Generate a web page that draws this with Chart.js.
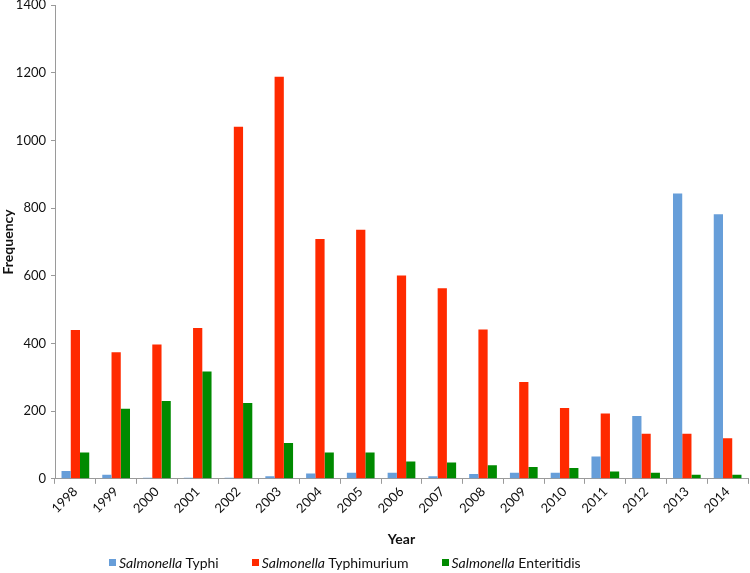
<!DOCTYPE html>
<html>
<head>
<meta charset="utf-8">
<script src="https://cdn.jsdelivr.net/npm/chart.js@4/dist/chart.umd.min.js"></script>
<style>
  html, body { margin: 0; padding: 0; background: #fff; }
  #wrap { position: relative; width: 750px; height: 573px; }
  #legend {
    position: absolute; left: 109px; top: 554px;
    display: flex; font: 14px Lato, sans-serif; color: #111;
  }
  .lg-item { display: flex; align-items: center; margin-right: 33px; white-space: nowrap; }
  .lg-box { width: 7px; height: 7px; margin-right: 3px; }
</style>
</head>
<body>
<div id="wrap">
  <canvas id="chart" width="750" height="573"></canvas>
  <div id="legend"></div>
</div>
<script>
// ─── data ───
const years = ['1998', '1999', '2000', '2001', '2002', '2003', '2004', '2005', '2006',
               '2007', '2008', '2009', '2010', '2011', '2012', '2013', '2014'];
const typhi       = [23, 12, 3, 3, 3, 8, 16, 18, 18, 8, 14, 18, 18, 66, 186, 843, 782];
const typhimurium = [440, 374, 397, 446, 1040, 1188, 709, 736, 601, 563, 441, 286, 209, 193, 133, 133, 120];
const enteritidis = [78, 207, 230, 317, 224, 106, 78, 78, 51, 48, 40, 35, 32, 22, 18, 12, 12];

const seriesNames = ['Typhi', 'Typhimurium', 'Enteritidis'];
const genus = 'Salmonella';
const colors = ['#679ED9', '#FF2A00', '#008A00'];

const FONT = 'Lato, sans-serif';
const axisColor = '#9a9a9a';

const datasets = [typhi, typhimurium, enteritidis].map((vals, i) => ({
  label: genus + ' ' + seriesNames[i],
  data: vals,
  backgroundColor: colors[i],
  borderWidth: 0,
  categoryPercentage: 0.68,
  barPercentage: 1.0,
}));

const chart = new Chart(document.getElementById('chart'), {
  type: 'bar',
  data: { labels: years, datasets },
  options: {
    responsive: false,
    animation: false,
    layout: { padding: { left: 0, right: 2, top: 0, bottom: 21 } },
    plugins: {
      legend: { display: false },
      tooltip: { enabled: false },
    },
    scales: {
      x: {
        grid: {
          display: true, drawOnChartArea: false, drawTicks: true,
          tickLength: 5, color: axisColor, offset: true,
        },
        border: { color: axisColor },
        ticks: {
          minRotation: 45, maxRotation: 45, color: '#111',
          font: { family: FONT, size: 13 }, padding: 0,
        },
        title: {
          display: true, text: 'Year', color: '#111',
          font: { family: FONT, size: 14, weight: 'bold' }, padding: { top: 15, bottom: 4 },
        },
      },
      y: {
        min: 0, max: 1400,
        // pin the axis position and let the top label sit near the edge, like the original
        afterFit: s => { s.width = 55; s.paddingTop = 5; },
        grid: {
          display: true, drawOnChartArea: false, drawTicks: true,
          tickLength: 4, color: axisColor,
        },
        border: { color: axisColor },
        ticks: {
          stepSize: 200, color: '#111',
          font: { family: FONT, size: 13 }, padding: 5,
          callback: v => String(v),
        },
        title: {
          display: true, text: 'Frequency', color: '#111',
          font: { family: FONT, size: 14, weight: 'bold' }, padding: { top: 0, bottom: 0 },
        },
      },
    },
  },
});

// HTML legend with italic genus name
document.getElementById('legend').innerHTML = seriesNames.map((name, i) => `
  <div class="lg-item">
    <span class="lg-box" style="background:${colors[i]}"></span>
    <span><i>${genus}</i> ${name}</span>
  </div>`).join('');
</script>
</body>
</html>
